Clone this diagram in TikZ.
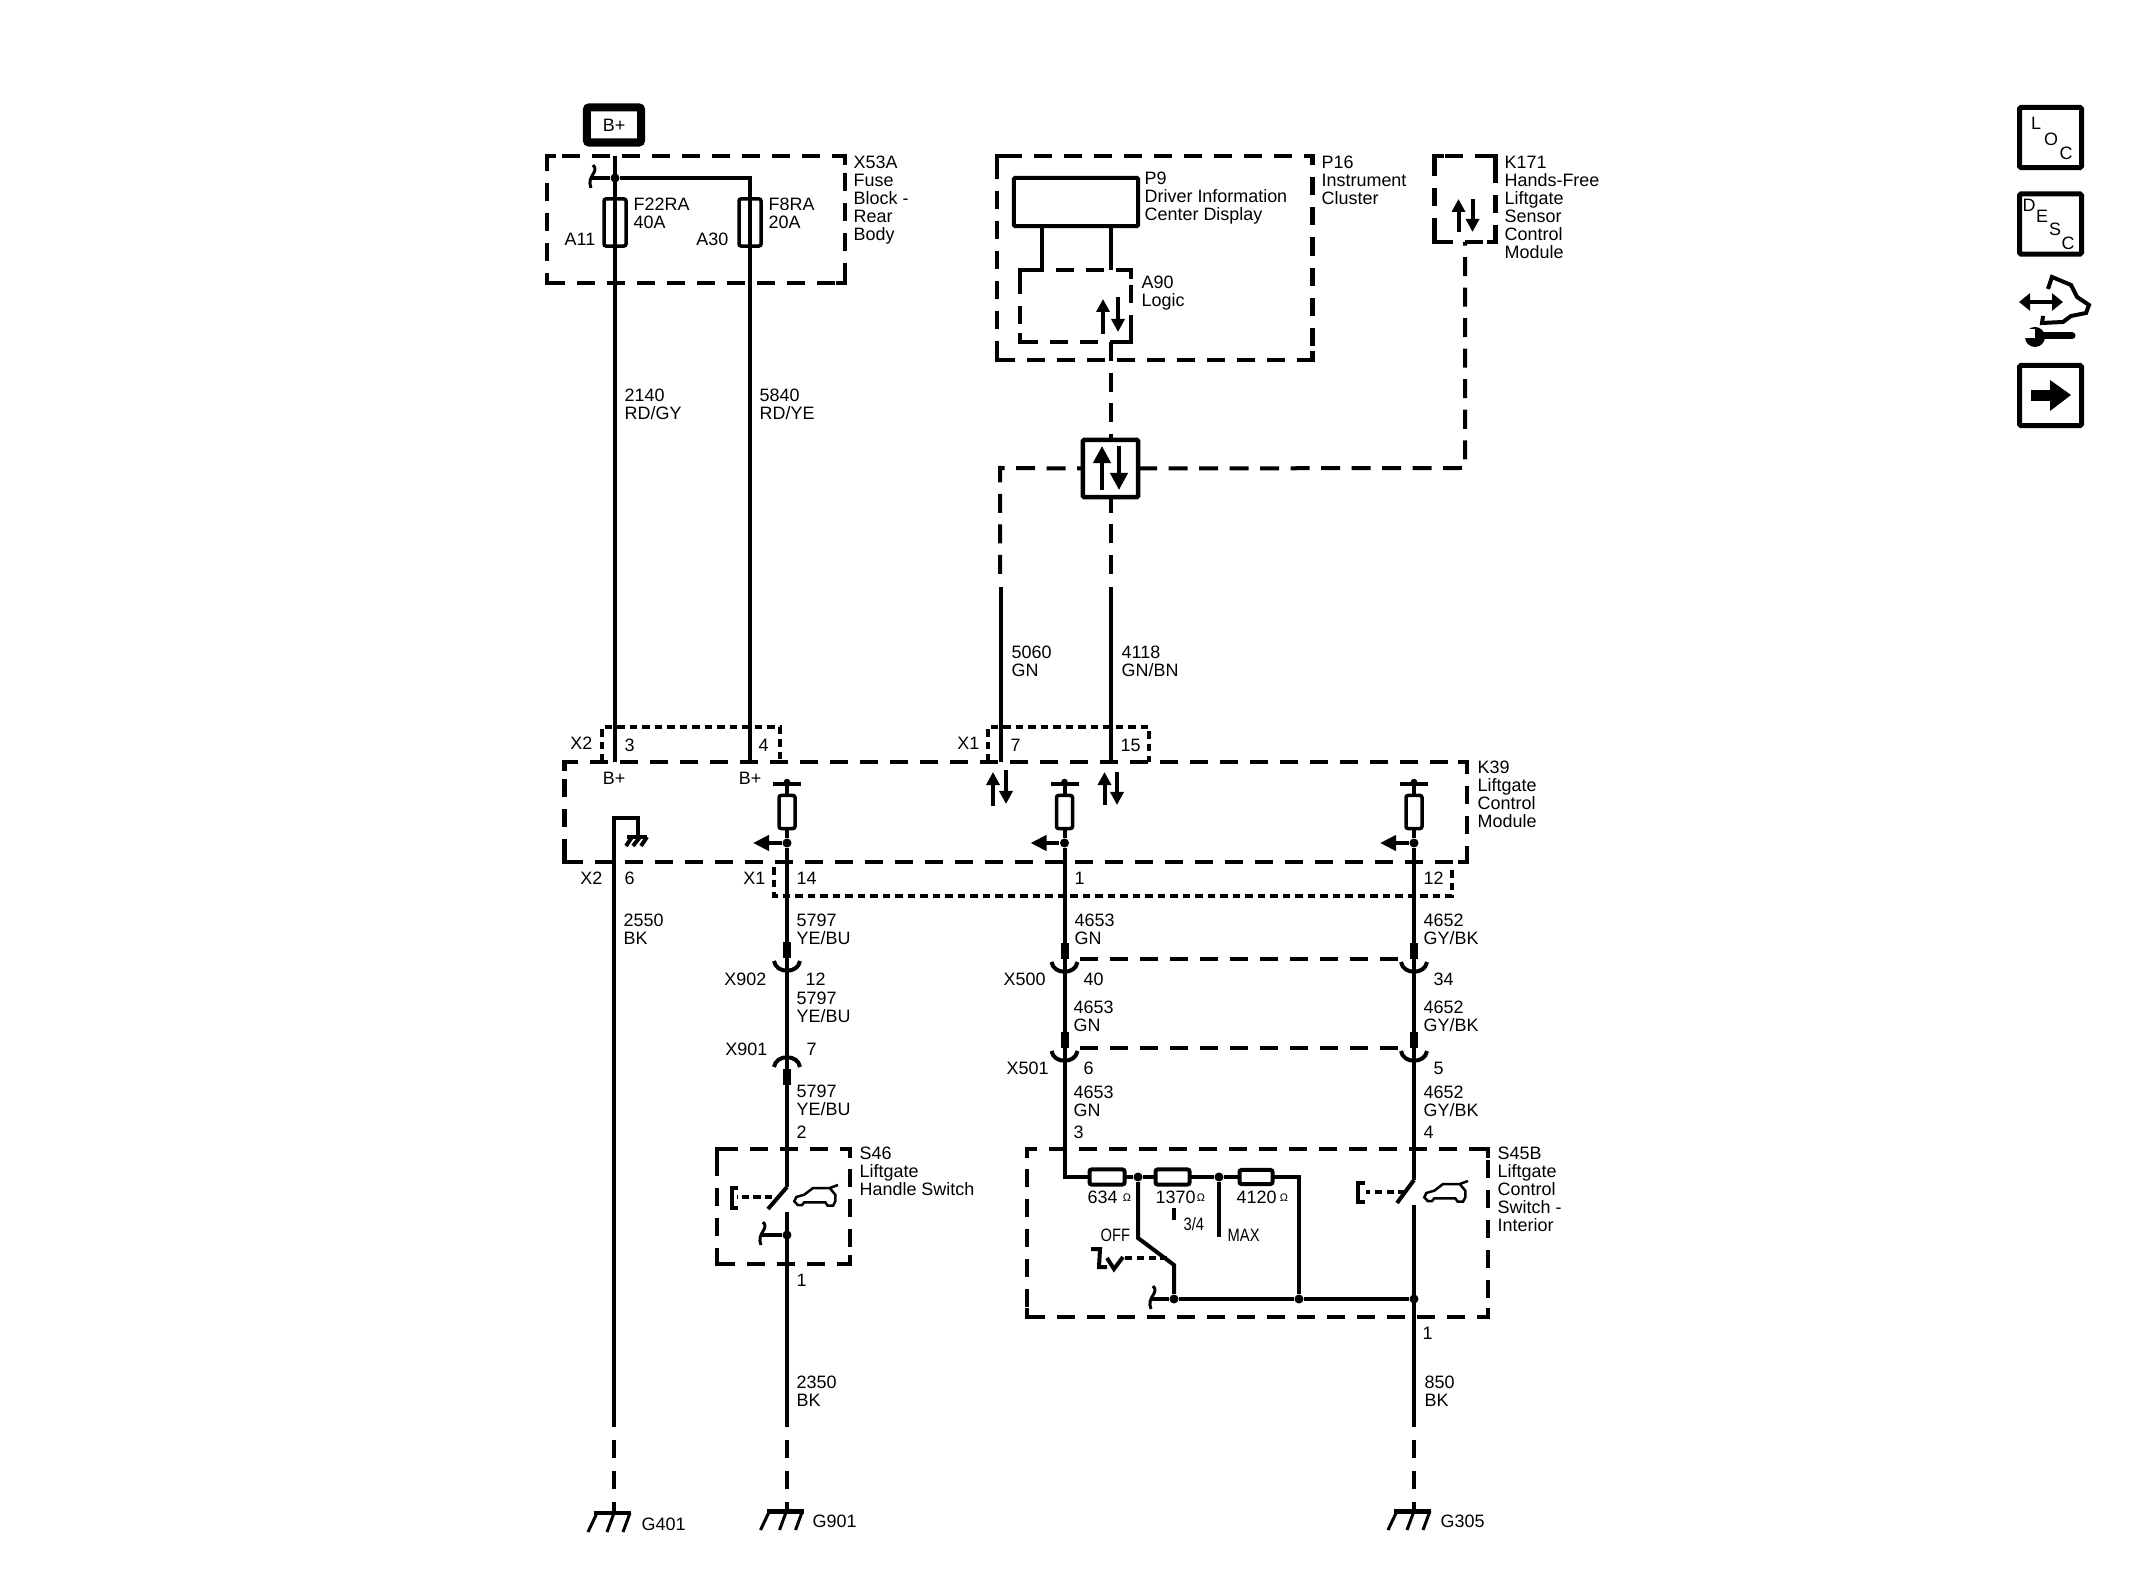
\documentclass[tikz,border=0pt]{standalone}
\usepackage{fontspec}
\setmainfont{Liberation Sans}
\newfontfamily\narrowfont[FakeStretch=0.82]{Liberation Sans}
\usetikzlibrary{arrows.meta}
\newcommand{\lblfont}{\fontsize{5.1}{5.12}\selectfont}
\newcommand{\nlblfont}{\narrowfont\fontsize{5.1}{5.12}\selectfont}
\tikzset{
	wire/.style={line width=0.04cm},
	sigwire/.style={line width=0.04cm, dash pattern=on 0.19cm off 0.115cm},
	gndwire/.style={line width=0.04cm, dash pattern=on 0.18cm off 0.13cm},
	modbox/.style={draw, line width=0.045cm, dash pattern=on 0.18cm off 0.12cm, inner sep=0pt, outer sep=0pt},
	conbox/.style={line width=0.035cm, dash pattern=on 0.075cm off 0.05cm},
	shell/.style={line width=0.045cm, dash pattern=on 0.18cm off 0.12cm},
	actdash/.style={line width=0.035cm, dash pattern=on 0.07cm off 0.045cm},
	fuse/.style={draw, line width=0.035cm, rounded corners=0.02cm, inner sep=0pt, outer sep=0pt},
	dot/.style={circle, fill=black, inner sep=0pt, minimum size=0.09cm},
	lbl/.style={anchor=north west, inner sep=0pt, align=left, font=\lblfont, xshift=-0.01cm, yshift=0.005cm},
	lblr/.style={anchor=north east, inner sep=0pt, align=right, font=\lblfont, yshift=0.005cm},
	nlbl/.style={anchor=north west, inner sep=0pt, align=left, font=\nlblfont, yshift=0.005cm},
	ohm/.style={inner sep=0pt, font=\fontsize{3.1}{3.1}\selectfont},
	iconbox/.style={draw, line width=0.05cm, rounded corners=0.015cm, minimum width=0.62cm, minimum height=0.6cm, inner sep=0pt},
	icontxt/.style={inner sep=0pt, font=\lblfont},
	sig/.style={line width=0.04cm, -{Triangle[length=0.13cm, width=0.13cm]}},
	bigsig/.style={line width=0.04cm, -{Triangle[length=0.17cm, width=0.17cm]}},
}
% x pos up, x pos down, y of tip up, y of start down, length
\newcommand{\sigpair}[5]{
	\draw[sig] (#1,#3+#5) -- (#1,#3);
	\draw[sig] (#2,#4) -- (#2,#4+#5);
}
\newcommand{\corners}[1]{
	\draw[wire, line width=0.045cm] ([xshift=0.09cm]#1.north west) -- (#1.north west) -- ([yshift=-0.09cm]#1.north west);
	\draw[wire, line width=0.045cm] ([xshift=-0.09cm]#1.north east) -- (#1.north east) -- ([yshift=-0.09cm]#1.north east);
	\draw[wire, line width=0.045cm] ([xshift=0.09cm]#1.south west) -- (#1.south west) -- ([yshift=0.09cm]#1.south west);
	\draw[wire, line width=0.045cm] ([xshift=-0.09cm]#1.south east) -- (#1.south east) -- ([yshift=0.09cm]#1.south east);
}
% name of the junction, x and y of the end
\newcommand{\jumper}[3]{
	\draw[wire] (#1) -- (#2,#3);
	\draw[line width=0.03cm] (#2+1,#3-13) .. controls (#2+8,#3-6) and (#2-6,#3-2) .. (#2-1,#3+10);
}
% name, x
\newcommand{\pullup}[2]{
	\node (#1) [fuse, minimum width=0.16cm, minimum height=0.33cm] at (#2,812) {};
	\node (#1j) [dot] at (#2,843) {};
	\node (#1t) [dot, minimum size=0.065cm] at (#2,782) {};
	\draw[wire] (#2-14,784) -- (#2+14,784);
	\draw[wire] (#1t) -- (#1.north);
	\draw[wire] (#1.south) -- (#1j);
	\draw[line width=0.04cm, -{Triangle[length=0.16cm, width=0.15cm]}] (#1j) -- (#2-34,843);
}
% wire stub and socket, x, y
\newcommand{\plugU}[2]{
	\draw[line width=0.08cm] (#1,#2) -- (#1,#2+16);
	\draw[wire] (#1-13,#2+19) .. controls (#1-11,#2+32) and (#1+11,#2+32) .. (#1+13,#2+19);
}
\newcommand{\plugN}[2]{
	\draw[line width=0.08cm] (#1,#2) -- (#1,#2+16);
	\draw[wire] (#1-13,#2-2) .. controls (#1-11,#2-15) and (#1+11,#2-15) .. (#1+13,#2-2);
}
\newcommand{\gndsym}[3]{
	\draw[line width=#3] (#1-20,#2) -- (#1+17,#2);
	\draw[line width=0.03cm] (#1-17,#2) -- (#1-26,#2+19) (#1,#2) -- (#1-7,#2+19) (#1+16,#2) -- (#1+9,#2+19);
}
% tip of the tail, x and y
\newcommand{\carpic}[2]{
	\draw[line width=0.025cm, shift={(#1,#2)}] (0,0) -- (-8.3,3) -- (-25,3) -- (-33.7,9.7) -- (-41.7,12) -- (-43.7,16.3) -- (-40.3,20) -- (-36,20) -- (-33.7,17.3) -- (-12.7,17.3) -- (-10.3,20.7) -- (-5,20.7) -- (-2.7,16.3) -- (-2.7,9.7) -- (-8.3,3);
}
\begin{document}
\begin{tikzpicture}[x=0.01cm, y=-0.01cm]
	\useasboundingbox (0,0) rectangle (2130,1595);
	
	% fuse block
	\node (bplus) [draw, line width=0.08cm, rounded corners=0.02cm, minimum width=0.54cm, minimum height=0.35cm, inner sep=0pt, font=\lblfont] at (614,125) {B+};
	\node (x53a) [modbox, minimum width=2.98cm, minimum height=1.27cm] at (696,219.5) {};
	\corners{x53a}
	\node (x53atxt) [lbl] at (854,156) {X53A\\Fuse\\Block -\\Rear\\Body};
	\node (f22) [fuse, minimum width=0.22cm, minimum height=0.47cm] at (615,222.5) {};
	\node (f8) [fuse, minimum width=0.22cm, minimum height=0.47cm] at (750,222.5) {};
	\node (f22txt) [lbl] at (634,198) {F22RA\\40A};
	\node (f8txt) [lbl] at (769,198) {F8RA\\20A};
	\node (a11) [lblr] at (596,233) {A11};
	\node (a30) [lblr] at (729,233) {A30};
	\node (jx53) [dot] at (615,178) {};
	\coordinate (w2140a) at (615,156);
	\coordinate (w2140b) at (615,762);
	\coordinate (w5840a) at (750,178);
	\coordinate (w5840b) at (750,762);
	\draw[wire] (w2140a) -- (w2140b);
	\draw[wire] (jx53) -- (w5840a) -- (w5840b);
	\jumper{jx53}{592}{178}
	\node (t2140) [lbl] at (625,389) {2140\\RD/GY};
	\node (t5840) [lbl] at (760,389) {5840\\RD/YE};
	
	% instrument cluster
	\node (p16) [modbox, minimum width=3.155cm, minimum height=2.04cm] at (1154.75,258) {};
	\corners{p16}
	\node (p16txt) [lbl] at (1322,156) {P16\\Instrument\\Cluster};
	\node (p9) [draw, line width=0.04cm, rounded corners=0.01cm, minimum width=1.24cm, minimum height=0.48cm, inner sep=0pt, outer sep=0pt] at (1076,202) {};
	\node (p9txt) [lbl] at (1145,172) {P9\\Driver Information\\Center Display};
	\node (a90) [modbox, minimum width=1.11cm, minimum height=0.72cm] at (1075.5,306) {};
	\corners{a90}
	\node (a90txt) [lbl] at (1142,276) {A90\\Logic};
	\coordinate (p9l) at (1042,226);
	\coordinate (p9r) at (1110.5,226);
	\coordinate (a90l) at (1042,270);
	\coordinate (a90r) at (1110.5,270);
	\draw[wire] (p9l) -- (a90l);
	\draw[wire] (p9r) -- (a90r);
	\sigpair{1103}{1118}{299}{297}{35}
	
	% sensor module
	\node (k171) [modbox, minimum width=0.61cm, minimum height=0.86cm] at (1465,199) {};
	\corners{k171}
	\node (k171txt) [lbl] at (1505,156) {K171\\Hands-Free\\Liftgate\\Sensor\\Control\\Module};
	\sigpair{1458.5}{1472.5}{199}{199}{33}
	
	% serial bus
	\node (bus) [draw, fill=white, line width=0.045cm, rounded corners=0.01cm, minimum width=0.55cm, minimum height=0.57cm, inner sep=0pt, outer sep=0pt] at (1110.5,468.5) {};
	\draw[bigsig] (1102,490) -- (1102,446);
	\draw[bigsig] (1119,446) -- (1119,490);
	\coordinate (sig5060) at (1000,574);
	\coordinate (sig4118) at (1110.5,574);
	\coordinate (sol5060) at (1001,587);
	\coordinate (sol4118) at (1111,587);
	\coordinate (cornl) at (1000,468);
	\coordinate (cornr) at (1465,468);
	\coordinate (k171b) at (1465,242);
	\coordinate (a90b) at (1110.5,342);
	\coordinate (w5060b) at (1001,762);
	\coordinate (w4118b) at (1111,762);
	\draw[sigwire] (a90b) -- (bus.north);
	\draw[sigwire] (sig4118) -- (bus.south);
	\draw[sigwire] (sig5060) -- (cornl) -- (bus.west);
	\draw[sigwire] (bus.east) -- (cornr) -- (k171b);
	\draw[wire] (sol5060) -- (w5060b);
	\draw[wire] (sol4118) -- (w4118b);
	\node (t5060) [lbl] at (1012,646) {5060\\GN};
	\node (t4118) [lbl] at (1122,646) {4118\\GN/BN};
	
	% liftgate control module
	\node (k39) [modbox, minimum width=9.015cm, minimum height=1cm] at (1015.75,812) {};
	\corners{k39}
	\node (k39txt) [lbl] at (1478,761) {K39\\Liftgate\\Control\\Module};
	\draw[conbox] (602,762) -- (602,727) -- (780,727) -- (780,762);
	\draw[conbox] (988,762) -- (988,727) -- (1149,727) -- (1149,762);
	\draw[conbox] (774,867) -- (774,896) -- (1452,896) -- (1452,867);
	\node (x2a) [lblr] at (593,737) {X2};
	\node (p3) [lbl] at (625,739) {3};
	\node (p4) [lbl] at (759,739) {4};
	\node (x1a) [lblr] at (980,737) {X1};
	\node (p7) [lbl] at (1011,739) {7};
	\node (p15) [lbl] at (1121,739) {15};
	\node (bp1) [font=\lblfont, inner sep=0pt] at (614,778) {B+};
	\node (bp2) [font=\lblfont, inner sep=0pt] at (750,778) {B+};
	\sigpair{993}{1006}{772}{770}{34}
	\sigpair{1104.5}{1117}{772}{772}{33}
	\pullup{ru1}{787}
	\pullup{ru2}{1064.5}
	\pullup{ru3}{1414}
	
	% module ground
	\coordinate (gi1) at (614,818);
	\coordinate (gi2) at (638,818);
	\coordinate (gi3) at (638,836);
	\draw[wire] (gi3) -- (gi2) -- (gi1) -- (614,1417);
	\draw[line width=0.045cm] (627,837) -- (647,837);
	\draw[line width=0.04cm] (632,837) -- (626,846) (640,837) -- (633,846) (647,837) -- (641,846);
	\node (x2b) [lblr] at (603,872) {X2};
	\node (p6) [lbl] at (625,872) {6};
	\node (x1b) [lblr] at (766,872) {X1};
	\node (p14) [lbl] at (797,872) {14};
	\node (p1) [lbl] at (1075,872) {1};
	\node (p12) [lbl] at (1424,872) {12};
	\node (t2550) [lbl] at (624,914) {2550\\BK};
	\node (t5797a) [lbl] at (797,914) {5797\\YE/BU};
	\node (t4653a) [lbl] at (1075,914) {4653\\GN};
	\node (t4652a) [lbl] at (1424,914) {4652\\GY/BK};
	
	% handle switch column
	\draw[wire] (ru1j) -- (787,1187);
	\plugU{787}{942}
	\plugN{787}{1069}
	\node (x902) [lblr] at (767,973) {X902};
	\node (p12b) [lbl] at (806,973) {12};
	\node (t5797b) [lbl] at (797,992) {5797\\YE/BU};
	\node (x901) [lblr] at (768,1043) {X901};
	\node (p7b) [lbl] at (807,1043) {7};
	\node (t5797c) [lbl] at (797,1085) {5797\\YE/BU};
	\node (p2) [lbl] at (797,1126) {2};
	\node (s46) [modbox, minimum width=1.33cm, minimum height=1.15cm] at (783.5,1206.5) {};
	\corners{s46}
	\node (s46txt) [lbl] at (860,1147) {S46\\Liftgate\\Handle Switch};
	\coordinate (s46pv) at (787,1187);
	\coordinate (s46tip) at (768,1209);
	\coordinate (s46lo) at (787,1212);
	\coordinate (s46act) at (772,1197);
	\coordinate (s46br) at (737,1197);
	\node (js46) [dot] at (787,1235) {};
	\draw[wire] (s46pv) -- (s46tip);
	\draw[wire] (s46lo) -- (787,1409);
	\draw[actdash] (s46act) -- (s46br);
	\draw[line width=0.04cm] (738,1188) -- (732,1188) -- (732,1208) -- (738,1208);
	\carpic{838}{1185}
	\jumper{js46}{762}{1235}
	\node (p1b) [lbl] at (797,1274) {1};
	\node (t2350) [lbl] at (797,1376) {2350\\BK};
	
	% wire 4653 and wire 4652
	\draw[wire] (ru2j) -- (1064.5,1177) -- (1089,1177);
	\draw[wire] (ru3j) -- (1414,1180);
	\plugU{1064.5}{943}
	\plugU{1414}{943}
	\plugU{1064.5}{1032}
	\plugU{1414}{1032}
	\draw[shell] (1080,959) -- (1402,959);
	\draw[shell] (1080,1048) -- (1402,1048);
	\node (x500) [lbl] at (1004,973) {X500};
	\node (p40) [lbl] at (1084,973) {40};
	\node (p34) [lbl] at (1434,973) {34};
	\node (t4653b) [lbl] at (1074,1001) {4653\\GN};
	\node (t4652b) [lbl] at (1424,1001) {4652\\GY/BK};
	\node (x501) [lbl] at (1007,1062) {X501};
	\node (p6b) [lbl] at (1084,1062) {6};
	\node (p5) [lbl] at (1434,1062) {5};
	\node (t4653c) [lbl] at (1074,1086) {4653\\GN};
	\node (t4652c) [lbl] at (1424,1086) {4652\\GY/BK};
	\node (p3b) [lbl] at (1074,1126) {3};
	\node (p4b) [lbl] at (1424,1126) {4};
	
	% control switch
	\node (s45b) [modbox, minimum width=4.61cm, minimum height=1.68cm] at (1257.5,1233) {};
	\corners{s45b}
	\node (s45txt) [lbl] at (1498,1147) {S45B\\Liftgate\\Control\\Switch -\\Interior};
	\node (r634) [fuse, line width=0.04cm, minimum width=0.35cm, minimum height=0.15cm] at (1107,1177) {};
	\node (r1370) [fuse, line width=0.04cm, minimum width=0.34cm, minimum height=0.15cm] at (1172.5,1177) {};
	\node (r4120) [fuse, line width=0.04cm, minimum width=0.33cm, minimum height=0.14cm] at (1256,1177) {};
	\node (j634) [dot] at (1138,1177) {};
	\node (j1370) [dot] at (1219,1177) {};
	\node (joff) [dot] at (1174,1299) {};
	\node (jmax) [dot] at (1299,1299) {};
	\node (jsw) [dot] at (1414,1299) {};
	\coordinate (rend) at (1299,1177);
	\coordinate (dg1) at (1138,1238);
	\coordinate (dg2) at (1174,1265);
	\coordinate (maxend) at (1219,1237);
	\draw[wire] (r634) -- (j634) -- (r1370) -- (j1370) -- (r4120) -- (rend) -- (jmax);
	\draw[wire] (j634) -- (dg1) -- (dg2) -- (joff);
	\draw[wire] (j1370) -- (maxend);
	\draw[wire] (joff) -- (jmax) -- (jsw);
	\draw[wire] (1174,1208) -- (1174,1220);
	\jumper{joff}{1152}{1299}
	\node (t634) [lbl] at (1088,1191) {634};
	\node (t1370) [lbl] at (1156,1191) {1370};
	\node (t4120) [lbl] at (1237,1191) {4120};
	\node (o634) [ohm] at (1127,1198) {Ω};
	\node (o1370) [ohm] at (1201,1198) {Ω};
	\node (o4120) [ohm] at (1284,1198) {Ω};
	\node (t34) [nlbl] at (1183,1217) {3/4};
	\node (toff) [nlbl] at (1100,1229) {OFF};
	\node (tmax) [nlbl] at (1227,1229) {MAX};
	\coordinate (offact) at (1167,1258);
	\coordinate (offsym) at (1125,1258);
	\draw[actdash] (offact) -- (offsym);
	\draw[line width=0.04cm] (1091,1249) -- (1100,1249) -- (1099,1267) -- (1107,1267);
	\draw[line width=0.04cm] (1107,1258) -- (1114,1269) -- (1123,1257);
	\coordinate (s45pv) at (1414,1180);
	\coordinate (s45tip) at (1397,1203);
	\coordinate (s45lo) at (1414,1205);
	\coordinate (s45act) at (1405,1192);
	\coordinate (s45br) at (1366,1192);
	\draw[wire] (s45pv) -- (s45tip);
	\draw[wire] (s45lo) -- (1414,1409);
	\draw[actdash] (s45act) -- (s45br);
	\draw[line width=0.04cm] (1365,1183) -- (1358,1183) -- (1358,1202) -- (1365,1202);
	\carpic{1468}{1181}
	\node (p1c) [lbl] at (1423,1327) {1};
	\node (t850) [lbl] at (1425,1376) {850\\BK};
	
	% grounds
	\draw[gndwire] (614,1409) -- (614,1513);
	\draw[gndwire] (786.5,1409) -- (786.5,1511);
	\draw[gndwire] (1414,1409) -- (1414,1511);
	\gndsym{614}{1513}{0.035cm}
	\gndsym{786.5}{1511}{0.05cm}
	\gndsym{1414}{1511}{0.05cm}
	\node (g401) [lbl] at (642,1518) {G401};
	\node (g901) [lbl] at (813,1515) {G901};
	\node (g305) [lbl] at (1441,1515) {G305};
	
	% icons on the right
	\node (iloc) [iconbox] at (2050.5,137.5) {};
	\node (idesc) [iconbox] at (2050.5,224) {};
	\node (inext) [iconbox] at (2050.5,395.5) {};
	\foreach \t/\tx/\ty in {L/2036/123, O/2051/139, C/2066/153}
		\node (loc\t) [icontxt] at (\tx,\ty) {\t};
	\foreach \t/\tx/\ty in {D/2029/205, E/2042/216, S/2055/229, C/2068/243}
		\node (desc\t) [icontxt] at (\tx,\ty) {\t};
	\draw[line width=0.045cm, {Triangle[length=0.11cm, width=0.17cm]}-{Triangle[length=0.11cm, width=0.17cm]}] (2019,302) -- (2063,302);
	\draw[line width=0.04cm] (2048,289) -- (2052,277) -- (2071,285) -- (2077,297) -- (2089,305) -- (2086,313) -- (2071,316) -- (2063,322) -- (2042,323) -- (2043,316);
	\draw[line width=0.07cm, line cap=round] (2037,336) -- (2072,336);
	\fill (2035,337) circle (0.1cm);
	\fill[white] (2023,329) rectangle (2035,338);
	\fill (2031,390) rectangle (2050,401);
	\fill (2050,380) -- (2071,395) -- (2050,411) -- cycle;
\end{tikzpicture}
\end{document}
